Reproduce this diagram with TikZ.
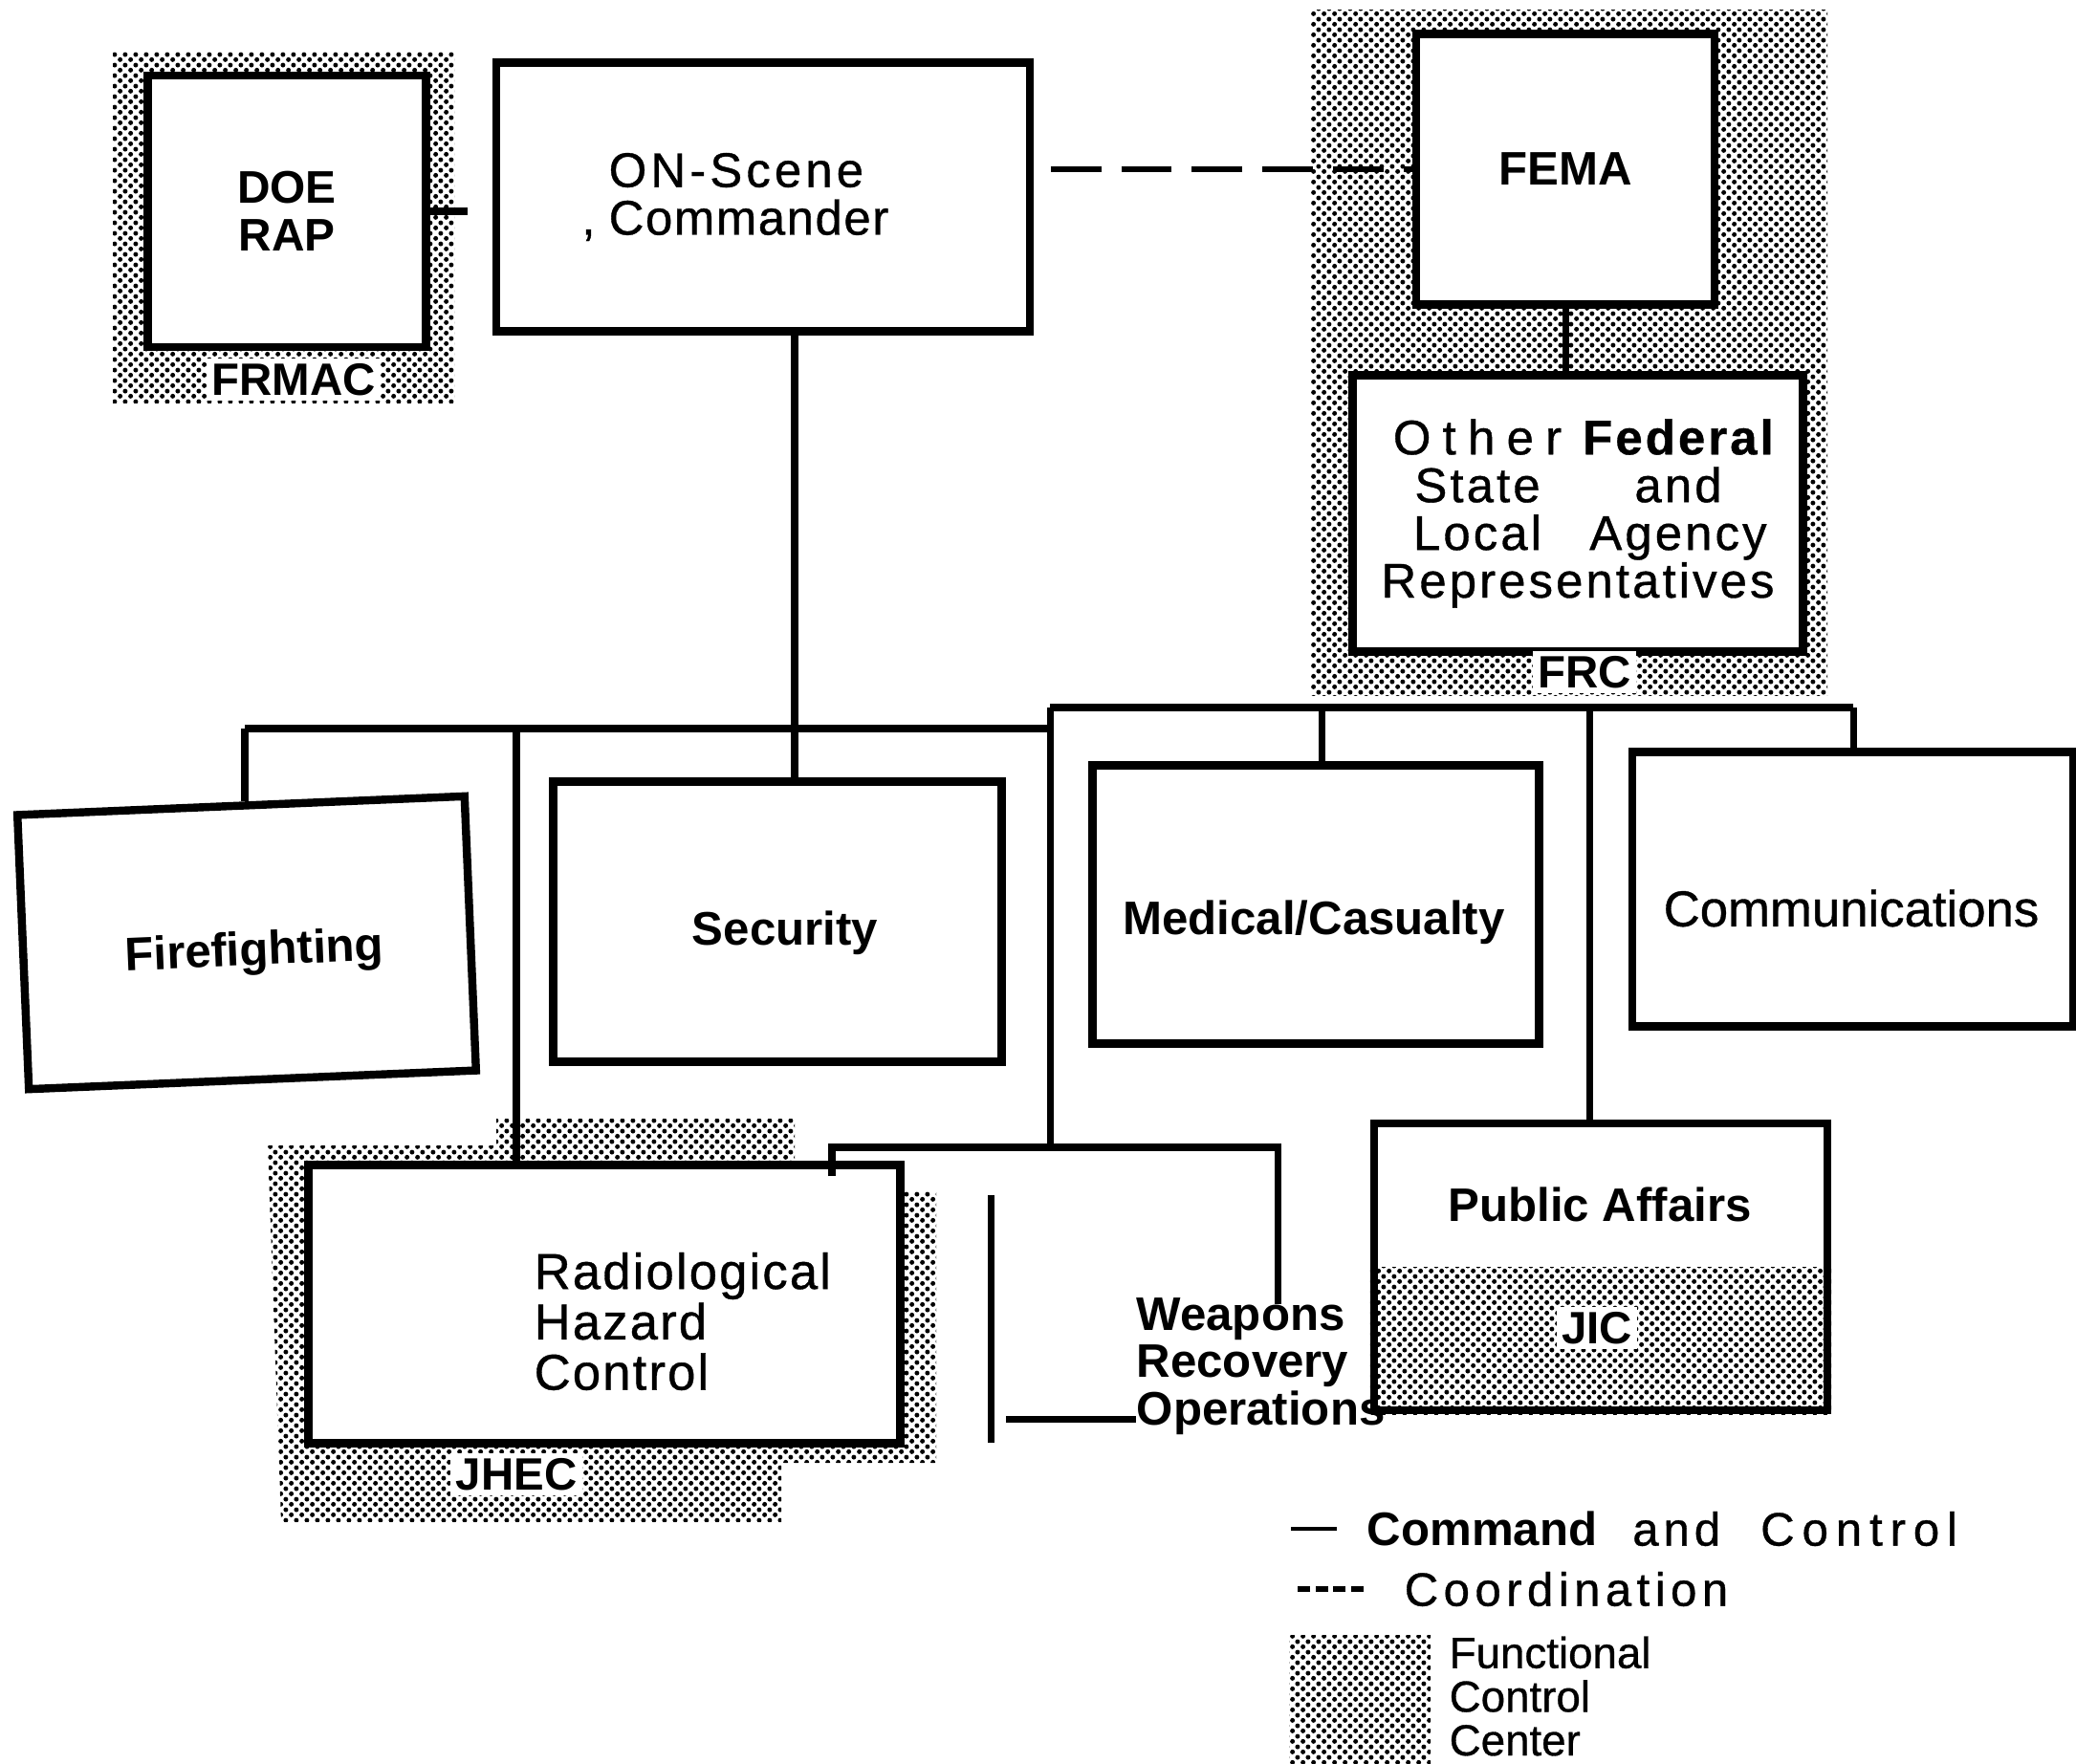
\documentclass[tikz,border=0pt]{standalone}
\usepackage{fontspec}
\setmainfont{Liberation Sans}
\usetikzlibrary{patterns,calc}
\pgfdeclarepatternformonly{halftone}{\pgfqpoint{0pt}{0pt}}{\pgfqpoint{3.2pt}{3.2pt}}{\pgfqpoint{3.2pt}{3.2pt}}{%
	\pgfpathcircle{\pgfqpoint{0.8pt}{0.8pt}}{0.75pt}%
	\pgfpathcircle{\pgfqpoint{2.4pt}{2.4pt}}{0.75pt}%
	\pgfusepath{fill}}
\def\bfs{\bfseries\fontsize{14}{14}\selectfont}
\def\rgs{\fontsize{14.5}{14.2}\selectfont\addfontfeatures{FakeBold=0.7}}
\def\tracked#1#2{{\addfontfeatures{LetterSpace=#1}#2}}

\begin{document}
\begin{tikzpicture}[
		box/.style={draw, line width=2.4pt, fill=white, inner sep=0pt},
		fcc/.style={pattern=halftone},
		conn/.style={line width=2pt},
		bus/.style={line width=2.4pt},
		coord/.style={line width=1.5pt, dash pattern=on 15pt off 6pt},
		tag/.style={fill=white, inner sep=1.5pt, font=\bfseries\fontsize{13.5}{14}\selectfont}]
			%%%%% START %%%%%
			\useasboundingbox (0,0) rectangle (21.71,-18.45);
			
			% functional control centers
			\fill[fcc] (1.18,-0.55) rectangle (4.75,-4.22);
			\fill[fcc] (13.71,-0.11) rectangle (19.11,-7.27);
			\fill[fcc] (2.80,-11.98) -- (5.19,-11.98) -- (5.19,-11.70) -- (8.31,-11.70) -- (8.31,-12.46) -- (9.79,-12.46)
				-- (9.79,-15.30) -- (8.17,-15.30) -- (8.17,-15.92) -- (2.94,-15.92) -- cycle;
			
			% top row
			\node[box, minimum width=2.91cm, minimum height=2.84cm, align=center, font=\bfseries\fontsize{13.6}{14.2}\selectfont] (doe) at (3.00,-2.21) {DOE\\RAP};
			\node[box, minimum width=5.58cm, minimum height=2.81cm, align=left, font=\rgs] (osc) at (7.98,-2.06) {\tracked{8}{ON-Scene}\\\llap{,\ }\tracked{3}{Commander}\hspace*{0.3cm}};
			\node[box, minimum width=3.12cm, minimum height=2.83cm, font=\bfs] (fema) at (16.37,-1.77) {FEMA};
			\node[box, minimum width=4.71cm, minimum height=2.89cm, align=center, font=\rgs\addfontfeatures{LetterSpace=6}] (other) at (16.50,-5.37)
				{\makebox[2.1cm]{\tracked{24}{Other}}\makebox[2.1cm]{\bfseries Federal}\\\makebox[2.1cm]{State}\makebox[2.1cm]{and}\\\makebox[2.1cm]{Local}\makebox[2.1cm]{Agency}\\Representatives};
			
			\node[tag] (frmac) at (3.07,-3.97) {FRMAC};
			\node[tag] (frc) at (16.57,-7.03) {FRC};
			
			\draw[conn] (doe.east) -- ++(0.39,0);
			\draw[coord] ([xshift=5pt]osc.east |- fema.west) -- (fema.west);
			\draw[conn] (fema.south) -- (fema.south |- other.north);
			
			% second row
			\node[box, minimum width=4.68cm, minimum height=2.87cm, rotate=2.4] (ff) at (2.58,-9.86) {};
			\node[box, minimum width=4.69cm, minimum height=2.93cm] (sec) at (8.13,-9.64) {};
			\node[box, minimum width=4.67cm, minimum height=2.91cm] (med) at (13.76,-9.46) {};
			\node[box, minimum width=4.61cm, minimum height=2.87cm] (comm) at (19.375,-9.30) {};
			\node[font=\bfs, rotate=2.4] (fft) at (2.66,-9.97) {Firefighting};
			\node[font=\bfs] (sect) at (8.21,-9.76) {Security};
			\node[font=\bfs] (medt) at (13.74,-9.65) {Medical/Casualty};
			\node[font=\fontsize{15}{15}\selectfont\addfontfeatures{FakeBold=0.7}] (commt) at (19.36,-9.50) {Communications};
			
			% bus
			\coordinate (lb) at (2.56,-7.62);
			\coordinate (jj) at (5.40,-7.62);
			\coordinate (oj) at (8.31,-7.62);
			\coordinate (lj) at (10.98,-7.62);
			\coordinate (rb) at (10.98,-7.40);
			\coordinate (mj) at (13.82,-7.40);
			\coordinate (pj) at (16.62,-7.40);
			\coordinate (re) at (19.38,-7.40);
			\draw[bus] (lb) -- (lj);
			\draw[bus] (rb) -- (re);
			
			% third row
			\node[box, minimum width=6.19cm, minimum height=2.91cm] (rhc) at (6.32,-13.64) {};
			\node[anchor=west, align=left, inner sep=0pt, font=\fontsize{15}{15}\selectfont\addfontfeatures{LetterSpace=4,FakeBold=0.7}] (rhct) at (5.58,-13.82) {Radiological\\Hazard\\Control};
			\node[tag] (jhec) at (5.40,-15.42) {JHEC};
			
			\node[anchor=west, align=left, inner sep=0pt, font=\bfs] (wro) at (11.88,-14.29) {Weapons\\Recovery\\Operations};
			\coordinate (wtl) at (8.70,-12.00);
			\coordinate (wtr) at (13.36,-12.00);
			\coordinate (wbot) at (10.52,-14.84);
			\draw[conn] ([yshift=-0.30cm]wtl) -- (wtl) -- (wtr) -- ++(0,-1.64);
			\draw[conn] (10.36,-12.50) -- (10.36,-15.09);
			\draw[conn] (wbot) -- (wbot -| wro.west);
			
			\node[box, minimum width=4.74cm, minimum height=3.00cm] (pa) at (16.74,-13.25) {};
			\fill[fcc] (pa.west) rectangle (pa.south east);
			\node[font=\bfs] (pat) at (16.73,-12.60) {Public Affairs};
			\node[tag] (jic) at (16.70,-13.89) {JIC};
			
			% connectors
			\draw[conn] (lb) -- (lb |- ff.north);
			\draw[conn] (jj) -- (jj |- rhc.north);
			\draw[conn] (oj |- osc.south) -- (oj) -- (oj |- sec.north);
			\draw[conn] (rb) -- (rb |- wtl);
			\draw[conn] (mj) -- (mj |- med.north);
			\draw[conn] (pj) -- (pj |- pa.north);
			\draw[conn] (re) -- (re |- comm.north);
			
			% legend
			\node[anchor=west, inner sep=0pt, font=\fontsize{14}{14}\selectfont] (lgcc) at (14.29,-15.99)
				{{\bfseries Command}\hspace{0.37cm}{\addfontfeatures{FakeBold=0.7}\tracked{10}{and}\hspace{0.42cm}\tracked{16}{Control}}};
			\draw[line width=1.3pt] ([xshift=-0.31cm]lgcc.west) -- ++(-0.48,0);
			\node[anchor=west, inner sep=0pt, font=\fontsize{14}{14}\selectfont\addfontfeatures{FakeBold=0.7}] (lgco) at (14.68,-16.62) {\tracked{11}{Coordination}};
			\draw[line width=1.8pt, dash pattern=on 3.7pt off 1.6pt] ([xshift=-0.42cm]lgco.west) -- ++(-0.72,0);
			\fill[fcc] (13.48,-17.10) rectangle (14.96,-18.45);
			\node[anchor=west, align=left, inner sep=0pt, font=\fontsize{13}{13}\selectfont\addfontfeatures{FakeBold=0.7}] (lgfc) at (15.15,-17.74) {Functional\\Control\\Center};
			
			%%%%% END %%%%%
		\end{tikzpicture}
\end{document}
